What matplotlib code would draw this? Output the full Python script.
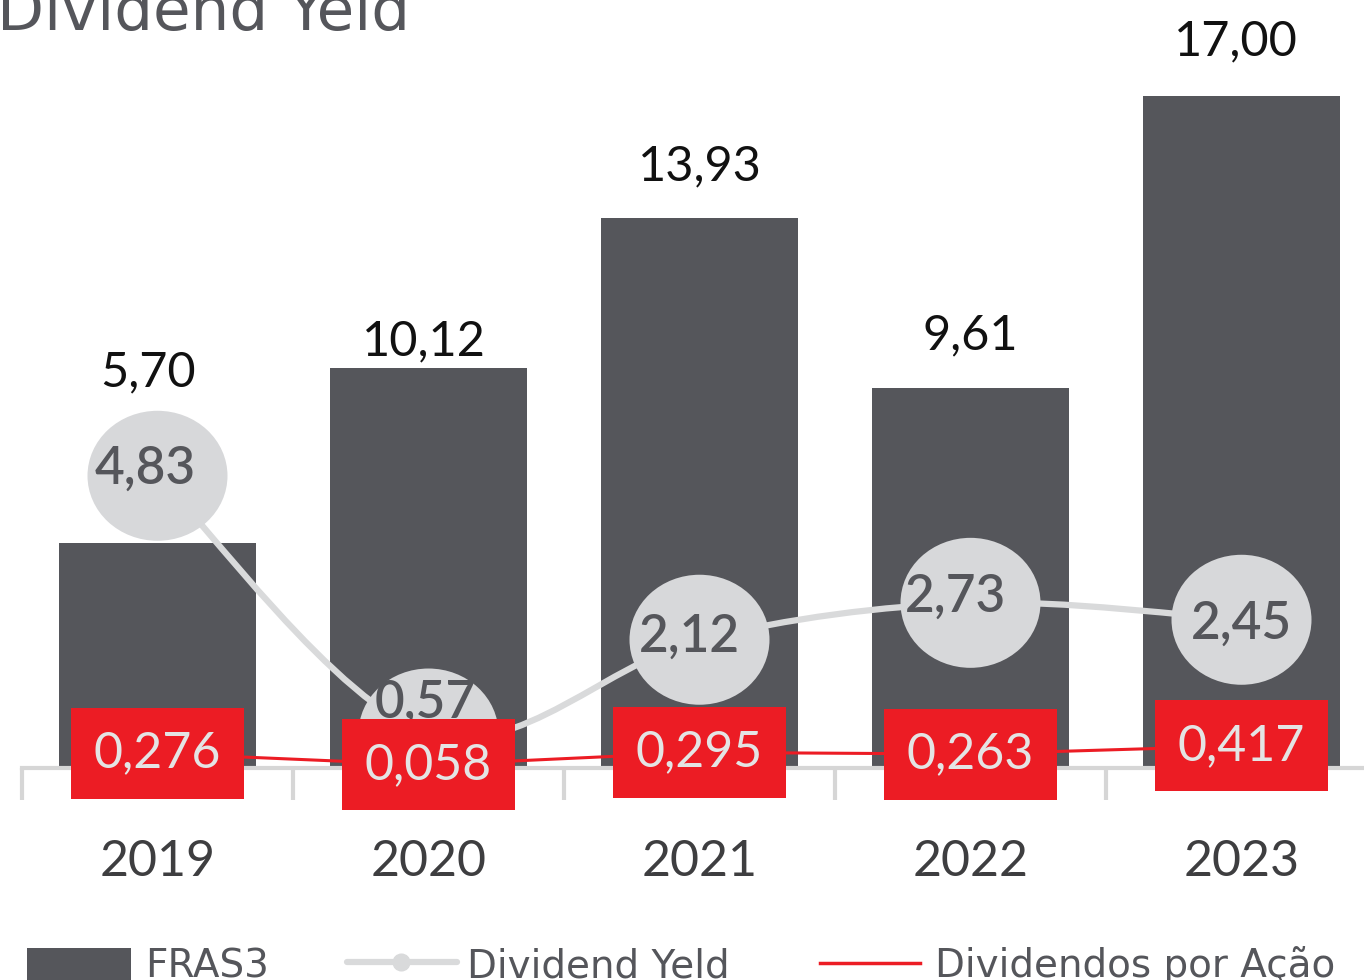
import matplotlib
matplotlib.use('Agg')
import matplotlib.pyplot as plt
import numpy as np
from matplotlib.patches import Ellipse, Rectangle, PathPatch
from matplotlib.path import Path
from matplotlib.lines import Line2D
from matplotlib.transforms import blended_transform_factory

# ---------------- data ----------------
years = ['2019', '2020', '2021', '2022', '2023']
fras3 = [5.70, 10.12, 13.93, 9.61, 17.00]
fras3_labels = ['5,70', '10,12', '13,93', '9,61', '17,00']
dy_values = [4.83, 0.57, 2.12, 2.73, 2.45]
dy_labels = ['4,83', '0,57', '2,12', '2,73', '2,45']
dpa_values = [0.276, 0.058, 0.295, 0.263, 0.417]
dpa_labels = ['0,276', '0,058', '0,295', '0,263', '0,417']

# ---------------- style ----------------
BAR = '#55565b'
ELL = '#d7d8da'
GLINE = '#d9dadb'
AXIS = '#d6d6d6'
RED = '#ec1c24'
BOXTXT = '#e4e4e4'
YEARC = '#3e3e40'

plt.rcParams['font.family'] = ['Lato', 'DejaVu Sans']

W, H = 1364, 980
fig = plt.figure(figsize=(W / 100, H / 100), dpi=100)

ax = fig.add_axes([22 / W, 1 - 768 / H, 1355 / W, 711 / H])
x = np.arange(len(years))
ax.bar(x, fras3, width=0.727, color=BAR, zorder=2)
ax.set_xlim(-0.5, 4.5)
ax.set_ylim(0, 18)
for s in ['top', 'left', 'right']:
    ax.spines[s].set_visible(False)
ax.spines['bottom'].set_color(AXIS)
ax.spines['bottom'].set_linewidth(3)
ax.set_xticks(np.arange(-0.5, 4.0, 1.0))
ax.tick_params(axis='x', direction='out', length=23, width=3, color=AXIS,
               labelbottom=False)
ax.set_yticks([])

# bar value labels (offsets in points from bar top)
bar_label_off = [(-7, 123), (-3, 19), (0, 37), (0, 38), (-4, 40)]
for i, (v, lab) in enumerate(zip(fras3, fras3_labels)):
    ax.annotate(lab, xy=(i, v), xytext=bar_label_off[i],
                textcoords='offset points', ha='center', va='center',
                fontsize=35, color='#111111')

# year labels
tr = blended_transform_factory(ax.transData, ax.transAxes)
for i, y in enumerate(years):
    ax.text(i, -94 / 711, y, transform=tr, ha='center', va='center',
            fontsize=36, color=YEARC)

# ---------------- dividend yield (secondary axis) ----------------
ax2 = ax.twinx()
ax2.set_ylim(0, 711 / 60.5)
ax2.set_axis_off()

P = np.column_stack([x, dy_values]).astype(float)
n = len(P)
verts = [tuple(P[0])]
codes = [Path.MOVETO]
for i in range(n - 1):
    p0 = P[i - 1] if i > 0 else P[i]
    p1 = P[i]
    p2 = P[i + 1]
    p3 = P[i + 2] if i + 2 < n else P[i + 1]
    c1 = p1 + (p2 - p0) / 6.0
    c2 = p2 - (p3 - p1) / 6.0
    verts += [tuple(c1), tuple(c2), tuple(p2)]
    codes += [Path.CURVE4] * 3
ax2.add_patch(PathPatch(Path(verts, codes), facecolor='none', edgecolor=GLINE,
                        lw=4.5, zorder=2, capstyle='round'))

ell_w = 140 / 271
ell_h = 130 / 60.5
dy_txt_off = [(-9, 5), (-2, 22), (-7, 2), (-11, 4), (0, -3)]
for i, (v, lab) in enumerate(zip(dy_values, dy_labels)):
    ax2.add_patch(Ellipse((i, v), ell_w, ell_h, facecolor=ELL, edgecolor='none',
                          zorder=3))
    ax2.annotate(lab, xy=(i, v), xytext=dy_txt_off[i], textcoords='offset points',
                 ha='center', va='center', fontsize=37, color=BAR, zorder=4,
                 fontweight='semibold')

# ---------------- dividendos por ação (third axis) ----------------
ax3 = ax.twinx()
ax3.set_ylim(0, 711 / 53)
ax3.set_axis_off()
ax3.plot(x, dpa_values, color=RED, lw=2.2, zorder=2)
for i, (v, lab) in enumerate(zip(dpa_values, dpa_labels)):
    ax3.text(i, v, lab, ha='center', va='center', fontsize=36, color=BOXTXT,
             zorder=4,
             bbox=dict(boxstyle='square,pad=0.45', facecolor=RED, edgecolor='none'))

# ---------------- title ----------------
fig.text(-3 / W, 1 - 30 / H, 'Dividend Yeld', fontsize=44, color=BAR,
         ha='left', va='baseline', family=['DejaVu Sans'])

# ---------------- legend ----------------
fig.add_artist(Rectangle((27 / W, 1 - 980 / H), 104 / W, 32 / H,
                         transform=fig.transFigure, facecolor=BAR, edgecolor='none'))
fig.text(145 / W, 1 - 977 / H, 'FRAS3', fontsize=28, color=BAR, ha='left',
         va='baseline', family=['DejaVu Sans'])
fig.add_artist(Line2D([347 / W, 457 / W], [1 - 962 / H] * 2, transform=fig.transFigure,
                      color=GLINE, lw=4.5, solid_capstyle='round'))
fig.add_artist(Line2D([401 / W], [1 - 962 / H], transform=fig.transFigure,
                      color=GLINE, marker='o', markersize=12, lw=0))
fig.text(467 / W, 1 - 977 / H, 'Dividend Yeld', fontsize=28, color=BAR, ha='left',
         va='baseline', family=['DejaVu Sans'])
fig.add_artist(Line2D([820 / W, 920 / W], [1 - 963 / H] * 2, transform=fig.transFigure,
                      color=RED, lw=2.5))
fig.text(935 / W, 1 - 977 / H, 'Dividendos por Ação', fontsize=28, color=BAR,
         ha='left', va='baseline', family=['DejaVu Sans'])

fig.savefig('out.png', dpi=100)
